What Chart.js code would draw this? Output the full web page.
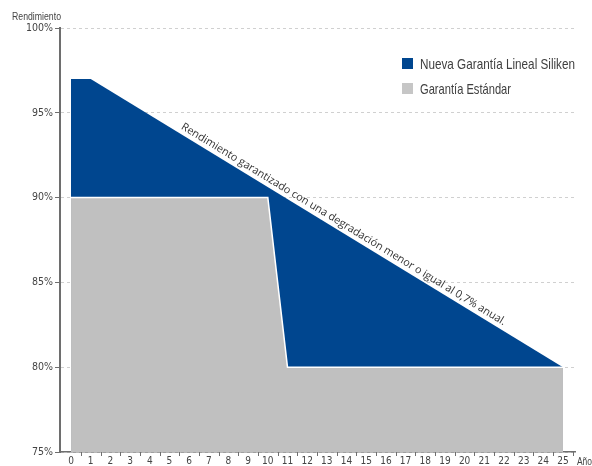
<!DOCTYPE html>
<html>
<head>
<meta charset="utf-8">
<script src="https://cdn.jsdelivr.net/npm/chart.js@4"></script>
<style>
  html, body { margin: 0; padding: 0; background: #fff; }
  #wrap { width: 592px; height: 466px; }
</style>
</head>
<body>
<div id="wrap"><canvas id="c" width="592" height="466"></canvas></div>
<script>
// Warranty curves (performance % by year)
const years = [0,1,2,3,4,5,6,7,8,9,10,11,12,13,14,15,16,17,18,19,20,21,22,23,24,25];
const linealYears  = [0, 1, 25];
const linealValues = [97, 97, 80];
const standardYears  = [0, 10, 11, 25];
const standardValues = [90, 90, 80, 80];
const yTicks = [75, 80, 85, 90, 95, 100];
const seriesNames = ['Nueva Garantía Lineal Siliken', 'Garantía Estándar'];
const noteText = 'Rendimiento garantizado con una degradación menor o igual al 0,7% anual.';

const BLUE = '#00468f';
const GREY = '#c0c0c0';
const condensed = '"DejaVu Sans Condensed", "DejaVu Sans", sans-serif';

const toPoints = (xs, ys) => xs.map((x, i) => ({ x: x, y: ys[i] }));

// draw text squeezed horizontally to a given width (narrow grotesque look)
function narrowText(ctx, text, x, y, font, width) {
  ctx.save();
  ctx.font = font;
  const w = ctx.measureText(text).width;
  ctx.translate(x, y);
  ctx.scale(width / w, 1);
  ctx.fillText(text, 0, 0);
  ctx.restore();
}

const extras = {
  id: 'extras',
  afterDraw(chart) {
    const { ctx, chartArea, scales } = chart;
    const xs = scales.x, ys = scales.y;
    ctx.save();
    // tick marks between year labels
    ctx.strokeStyle = '#6e6e6e';
    ctx.lineWidth = 1;
    for (let i = 0; i < years.length; i++) {
      const px = Math.round(xs.getPixelForValue(years[i] + 0.5)) + 0.5;
      if (px > chartArea.right) break;
      ctx.beginPath();
      ctx.moveTo(px, chartArea.bottom);
      ctx.lineTo(px, chartArea.bottom + 4);
      ctx.stroke();
    }
    // axis titles
    ctx.fillStyle = '#444';
    ctx.textBaseline = 'alphabetic';
    ctx.textAlign = 'left';
    narrowText(ctx, 'Rendimiento', 12, 20, '11px "Liberation Sans", sans-serif', 49);
    narrowText(ctx, 'Año', 577, 465, '11px "Liberation Sans", sans-serif', 15);
    // legend
    const lx = 402, ly = [58, 83];
    const cols = [BLUE, '#c6c6c6'];
    const widths = [155, 91];
    for (let i = 0; i < 2; i++) {
      ctx.fillStyle = cols[i];
      ctx.fillRect(lx, ly[i], 11, 11);
      ctx.fillStyle = '#404040';
      narrowText(ctx, seriesNames[i], 420, ly[i] + 11, '14.5px "Liberation Sans", sans-serif', widths[i]);
    }
    // note along the degradation line
    const x1 = xs.getPixelForValue(linealYears[1]), y1 = ys.getPixelForValue(linealValues[1]);
    const x2 = xs.getPixelForValue(linealYears[2]), y2 = ys.getPixelForValue(linealValues[2]);
    const ang = Math.atan2(y2 - y1, x2 - x1);
    const t = 0.527;
    const cx = x1 + (x2 - x1) * t, cy = y1 + (y2 - y1) * t;
    ctx.translate(cx, cy);
    ctx.rotate(ang);
    ctx.font = '10.75px "Open Sans", sans-serif';
    ctx.fillStyle = '#333';
    ctx.textAlign = 'center';
    ctx.textBaseline = 'alphabetic';
    ctx.fillText(noteText, 0, -4.5);
    ctx.restore();
  }
};

new Chart(document.getElementById('c'), {
  type: 'line',
  data: {
    datasets: [
      {
        label: seriesNames[1],
        data: toPoints(standardYears, standardValues),
        backgroundColor: GREY,
        borderColor: '#ffffff',
        borderWidth: 1.5,
        fill: 'start',
        pointRadius: 0,
        tension: 0,
        order: 0
      },
      {
        label: seriesNames[0],
        data: toPoints(linealYears, linealValues),
        backgroundColor: BLUE,
        borderColor: BLUE,
        borderWidth: 0,
        fill: 'start',
        pointRadius: 0,
        tension: 0,
        order: 1
      }
    ]
  },
  options: {
    responsive: false,
    animation: false,
    devicePixelRatio: 1,
    layout: { padding: { top: 28, left: 0, right: 17, bottom: 0 } },
    plugins: { legend: { display: false }, tooltip: { enabled: false } },
    scales: {
      x: {
        type: 'linear',
        min: -0.56,
        max: 25.61,
        z: 1,
        afterFit(s) { s.height = 14; },
        afterBuildTicks(s) { s.ticks = years.map(v => ({ value: v })); },
        grid: { display: false, drawTicks: false },
        border: { display: true, color: '#6e6e6e', width: 1.5 },
        ticks: {
          padding: 3,
          color: '#444',
          font: { family: condensed, size: 10 },
          maxRotation: 0,
          autoSkip: false
        }
      },
      y: {
        min: 75,
        max: 100,
        z: 1,
        afterFit(s) { s.width = 60; },
        afterBuildTicks(s) { s.ticks = yTicks.map(v => ({ value: v })); },
        grid: {
          color: '#d0d0d0',
          lineWidth: 1,
          tickLength: 5,
          tickColor: '#6e6e6e',
          drawOnChartArea: true
        },
        border: { display: true, color: '#6e6e6e', width: 2, dash: [3, 3] },
        ticks: {
          padding: 2,
          color: '#444',
          font: { family: condensed, size: 10.5 },
          callback: v => v + '%'
        }
      }
    }
  },
  plugins: [extras]
});
</script>
</body>
</html>
